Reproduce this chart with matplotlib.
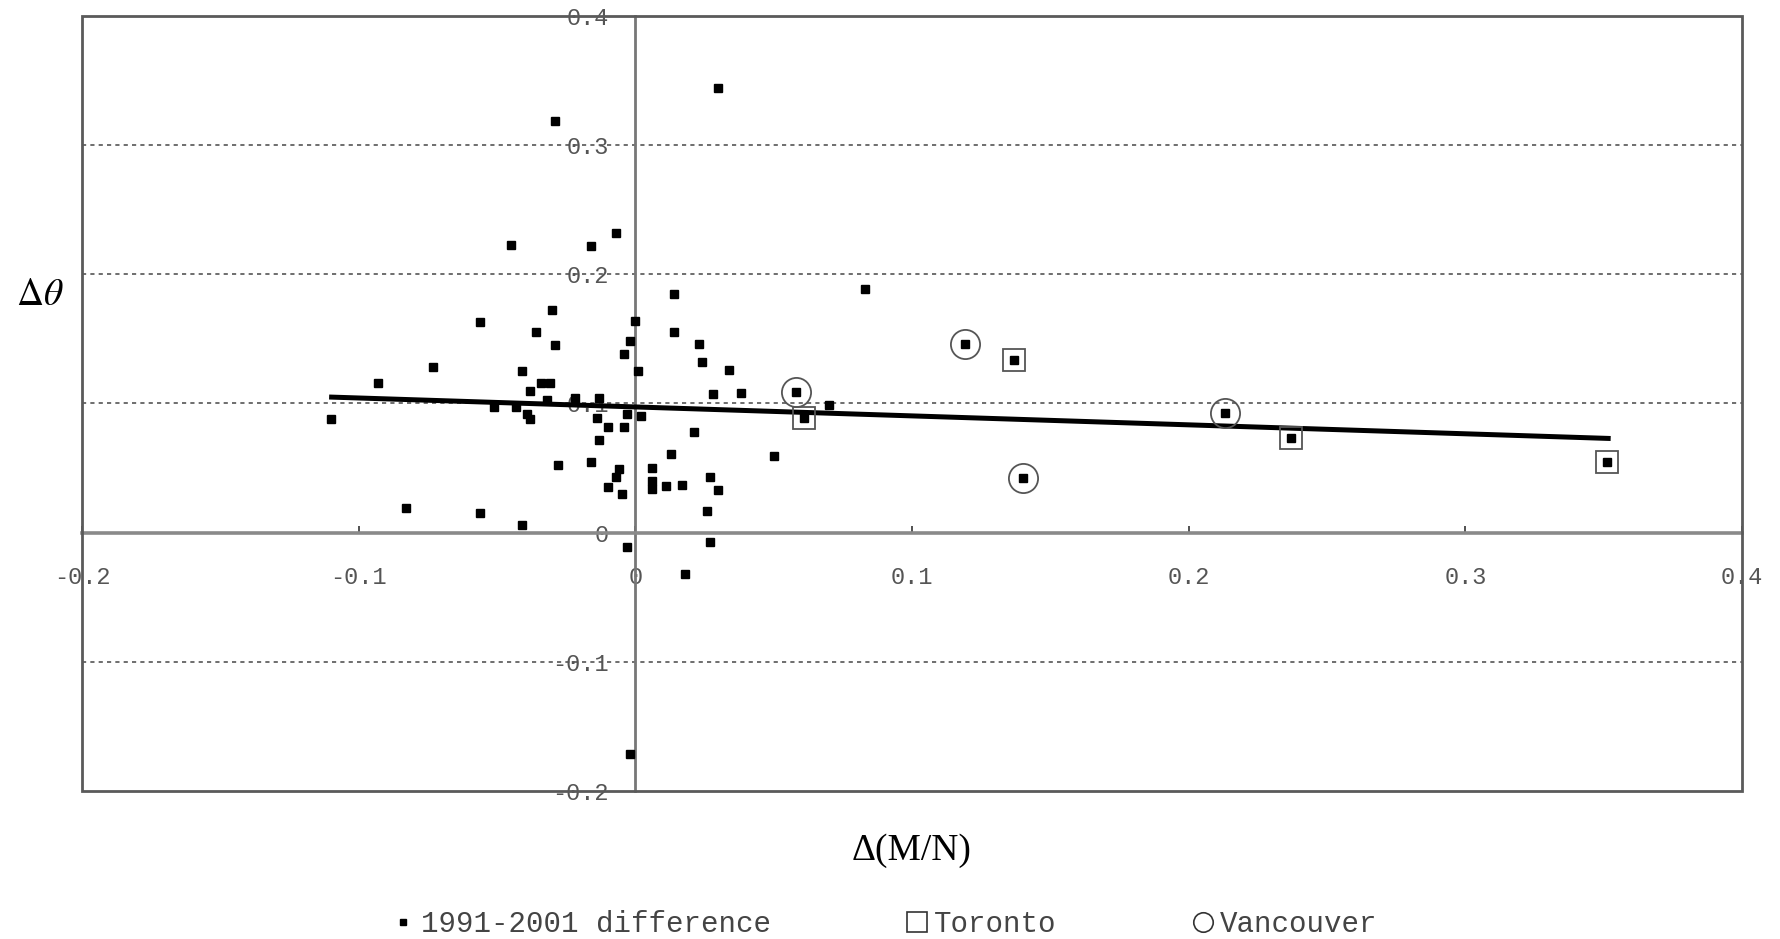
import numpy as np
import matplotlib
matplotlib.use("Agg")
import matplotlib.pyplot as plt
from matplotlib.patches import Rectangle
from matplotlib.lines import Line2D

# 1991-2001 differences (other cities)
diff_x = [0.030, -0.029, -0.007, -0.045, -0.016, 0.014, -0.030, -0.056, 0.000, -0.036,
          0.014, -0.029, -0.002, 0.023, -0.004, 0.024, -0.073, -0.041, 0.001, 0.034,
          -0.093, -0.034, -0.031, -0.038, 0.028, 0.038, -0.032, -0.022, -0.013, -0.051,
          -0.043, -0.039, -0.038, -0.110, -0.014, -0.003, 0.002, -0.010, -0.004, -0.013,
          0.021, 0.013, 0.050, -0.028, -0.016, -0.006, -0.007, -0.010, -0.005, 0.006,
          0.006, 0.006, 0.011, 0.017, 0.027, 0.030, 0.026, -0.083, -0.056, -0.041,
          0.027, -0.003, 0.018, -0.002, 0.083, 0.070]
diff_y = [0.344, 0.319, 0.232, 0.223, 0.222, 0.185, 0.172, 0.163, 0.164, 0.155,
          0.155, 0.145, 0.148, 0.146, 0.138, 0.132, 0.128, 0.125, 0.125, 0.126,
          0.116, 0.116, 0.116, 0.110, 0.107, 0.108, 0.103, 0.104, 0.104, 0.097,
          0.097, 0.092, 0.088, 0.088, 0.089, 0.092, 0.090, 0.082, 0.082, 0.072,
          0.078, 0.061, 0.059, 0.052, 0.055, 0.049, 0.043, 0.035, 0.030, 0.050,
          0.040, 0.034, 0.036, 0.037, 0.043, 0.033, 0.017, 0.019, 0.015, 0.006,
          -0.007, -0.011, -0.032, -0.171, 0.189, 0.099]

toronto_x = [0.061, 0.137, 0.237, 0.351]
toronto_y = [0.089, 0.134, 0.073, 0.055]
vancouver_x = [0.058, 0.119, 0.140, 0.213]
vancouver_y = [0.109, 0.146, 0.042, 0.093]

# fitted trend line (end points)
trend_x = [-0.1107, 0.3525]
trend_y = [0.1050, 0.0729]

x_ticks = [-0.2, -0.1, 0, 0.1, 0.2, 0.3, 0.4]
x_labels = ["-0.2", "-0.1", "0", "0.1", "0.2", "0.3", "0.4"]
y_ticks = [-0.2, -0.1, 0, 0.1, 0.2, 0.3, 0.4]
y_labels = ["-0.2", "-0.1", "0", "0.1", "0.2", "0.3", "0.4"]
grid_levels = [-0.1, 0.1, 0.2, 0.3]

plt.rcParams["mathtext.fontset"] = "stix"
tick_font = "Liberation Mono"

fig = plt.figure(figsize=(17.8, 9.39), dpi=100)
ax = fig.add_axes([0.0461, 0.1576, 0.9326, 0.8254])
ax.set_xlim(-0.2, 0.4)
ax.set_ylim(-0.2, 0.4)

for lv in grid_levels:
    ax.axhline(lv, color="#555555", lw=1.2, ls=(0, (2.5, 2.5)), zorder=1)

# crossing axes
for side in ["top", "right"]:
    ax.spines[side].set_visible(False)
ax.spines["left"].set_position(("data", 0))
ax.spines["bottom"].set_position(("data", 0))
ax.spines["left"].set_color("#777777")
ax.spines["left"].set_linewidth(2.0)
ax.spines["bottom"].set_color("#8a8a8a")
ax.spines["bottom"].set_linewidth(2.6)

ax.add_patch(Rectangle((0, 0), 1, 1, transform=ax.transAxes, fill=False,
                       edgecolor="#5a5a5a", lw=2.0, clip_on=False, zorder=5))

ax.set_xticks(x_ticks)
ax.set_xticklabels(x_labels)
ax.set_yticks(y_ticks)
ax.set_yticklabels(y_labels)
ax.tick_params(axis="x", direction="in", length=5, width=1.2, color="#333333",
               pad=24, labelsize=17, labelcolor="#555555")
ax.tick_params(axis="y", length=0, pad=19, labelsize=17, labelcolor="#555555")
for lab in ax.get_xticklabels() + ax.get_yticklabels():
    lab.set_family(tick_font)

ax.plot(trend_x, trend_y, color="black", lw=3.6, zorder=3, solid_capstyle="butt")

all_x = diff_x + toronto_x + vancouver_x
all_y = diff_y + toronto_y + vancouver_y
ax.plot(all_x, all_y, ls="none", marker="s", ms=6, color="black", zorder=4)
ax.plot(toronto_x, toronto_y, ls="none", marker="s", ms=16, mfc="none",
        mec="#555555", mew=1.3, zorder=4)
ax.plot(vancouver_x, vancouver_y, ls="none", marker="o", ms=21, mfc="none",
        mec="#555555", mew=1.3, zorder=4)

fig.text(0.0225, 0.686, r"$\Delta\theta$", fontsize=27, ha="center", va="center")
fig.text(0.512, 0.0945, "Δ(M/N)", fontsize=27, family="Liberation Serif",
         ha="center", va="center")

handles = [
    Line2D([], [], ls="none", marker="s", ms=5, color="black"),
    Line2D([], [], ls="none", marker="s", ms=14, mfc="none", mec="#333333", mew=1.2),
    Line2D([], [], ls="none", marker="o", ms=14, mfc="none", mec="#333333", mew=1.2),
]
leg = fig.legend(handles, ["1991-2001 difference", "Toronto", "Vancouver"],
                 loc="center", bbox_to_anchor=(0.497, 0.016), ncol=3, frameon=False,
                 prop={"family": tick_font, "size": 21}, handlelength=0.8,
                 handletextpad=0.2, columnspacing=4.6)
for t in leg.get_texts():
    t.set_color("#444444")

fig.savefig("out.png", dpi=100)
